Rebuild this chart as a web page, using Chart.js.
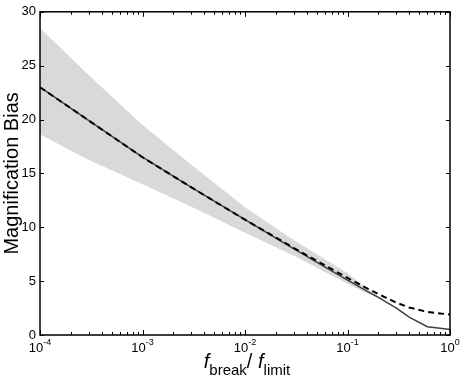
<!DOCTYPE html>
<html>
<head>
<meta charset="utf-8">
<script src="https://cdn.jsdelivr.net/npm/chart.js@4/dist/chart.umd.min.js"></script>
<style>
html,body{margin:0;padding:0;background:#fff;}
#wrap{width:463px;height:380px;}
</style>
</head>
<body>
<div id="wrap"><canvas id="c" width="463" height="380"></canvas></div>
<script>
// ---- data ----
const fRatio      = [1e-4, 3e-4, 1e-3, 3e-3, 1e-2, 3e-2, 0.1, 0.15, 0.2, 0.3, 0.4, 0.6, 0.8, 1.0];
const biasDashed  = [23.0, 19.9, 16.5, 13.7, 10.7, 8.07, 5.3, 4.4, 3.8, 3.0, 2.55, 2.15, 2.0, 1.9];
const biasSolid   = [23.0, 19.9, 16.5, 13.7, 10.7, 8.0, 5.1, 4.15, 3.5, 2.5, 1.65, 0.77, 0.63, 0.52];
const bandUpper   = [28.5, 24.1, 19.5, 15.8, 11.85, 8.8, 5.75, 4.4, 3.6, 2.5, 1.65, 0.77, 0.63, 0.52];
const bandLower   = [18.6, 16.25, 14.0, 11.9, 9.5, 7.35, 4.75, 3.95, 3.4, 2.5, 1.65, 0.77, 0.63, 0.52];
const yTicks      = [0, 5, 10, 15, 20, 25, 30];
const xDecades    = [-4, -3, -2, -1, 0];
const yTitle      = 'Magnification Bias';
const xTitleParts = ['f', 'break', '/', 'f', 'limit'];

const FONT = '"Liberation Sans", Arial, Helvetica, sans-serif';
Chart.defaults.font.family = FONT;
Chart.defaults.color = '#000';

const pts = ys => fRatio.map((x, i) => ({x: x, y: ys[i]}));

const decor = {
  id: 'decor',
  afterDraw(chart) {
    const ctx = chart.ctx;
    const a = chart.chartArea;
    const xs = chart.scales.x, ys = chart.scales.y;
    ctx.save();
    ctx.strokeStyle = '#000';
    // inward y ticks, both sides
    ctx.lineWidth = 1;
    yTicks.forEach(v => {
      const py = Math.round(ys.getPixelForValue(v)) + 0.5;
      ctx.beginPath();
      ctx.moveTo(a.left, py); ctx.lineTo(a.left + 4, py);
      ctx.moveTo(a.right, py); ctx.lineTo(a.right - 4, py);
      ctx.stroke();
    });
    // inward x ticks (major + minor), both sides
    xDecades.forEach(e => {
      for (let m = 1; m <= 9; m++) {
        const v = m * Math.pow(10, e);
        if (v > 1.0000001) break;
        const px = Math.round(xs.getPixelForValue(v)) + 0.5;
        const len = m === 1 ? 5 : 3;
        ctx.beginPath();
        ctx.moveTo(px, a.bottom); ctx.lineTo(px, a.bottom - len);
        ctx.moveTo(px, a.top); ctx.lineTo(px, a.top + len);
        ctx.stroke();
      }
    });
    // box
    ctx.lineWidth = 1.5;
    ctx.strokeRect(a.left, a.top, a.right - a.left, a.bottom - a.top);

    // x tick labels 10^n
    ctx.fillStyle = '#000';
    ctx.textBaseline = 'alphabetic';
    ctx.textAlign = 'left';
    xDecades.forEach(e => {
      const px = xs.getPixelForValue(Math.pow(10, e));
      const base = '10', sup = e === 0 ? '0' : '-' + Math.abs(e);
      ctx.font = '13px ' + FONT;
      const wb = ctx.measureText(base).width;
      ctx.font = '9px ' + FONT;
      const ws = ctx.measureText(sup).width;
      const x0 = px - (wb + ws) / 2;
      ctx.font = '13px ' + FONT;
      ctx.fillText(base, x0, a.bottom + 17);
      ctx.font = '9px ' + FONT;
      ctx.fillText(sup, x0 + wb, a.bottom + 10);
    });

    // x axis title: f_break / f_limit
    const big = '20px ' + FONT, bigI = 'italic 20px ' + FONT, sub = '15px ' + FONT;
    const segs = [
      {t: xTitleParts[0], f: bigI, dy: 0},
      {t: xTitleParts[1], f: sub, dy: 7},
      {t: xTitleParts[2] + ' ', f: big, dy: 0},
      {t: xTitleParts[3], f: bigI, dy: 0},
      {t: xTitleParts[4], f: sub, dy: 7}
    ];
    let total = 0;
    segs.forEach(s => { ctx.font = s.f; s.w = ctx.measureText(s.t).width; total += s.w; });
    let cx = (a.left + a.right) / 2 + 2 - total / 2;
    const baseY = a.bottom + 33;
    segs.forEach(s => { ctx.font = s.f; ctx.fillText(s.t, cx, baseY + s.dy); cx += s.w; });
    ctx.restore();
  }
};

new Chart(document.getElementById('c'), {
  type: 'line',
  data: {
    datasets: [
      {label: 'dashed', data: pts(biasDashed), borderColor: '#000', borderWidth: 2,
       borderDash: [6, 4], pointRadius: 0, tension: 0, fill: false, order: 0},
      {label: 'solid', data: pts(biasSolid), borderColor: '#404040', borderWidth: 1.5,
       pointRadius: 0, tension: 0, fill: false, order: 1},
      {label: 'upper', data: pts(bandUpper), borderWidth: 0, borderColor: 'rgba(0,0,0,0)',
       backgroundColor: '#d9d9d9', pointRadius: 0, tension: 0, fill: '+1', order: 2},
      {label: 'lower', data: pts(bandLower), borderWidth: 0, borderColor: 'rgba(0,0,0,0)',
       pointRadius: 0, tension: 0, fill: false, order: 3}
    ]
  },
  options: {
    responsive: false,
    animation: false,
    devicePixelRatio: 1,
    layout: {padding: {top: 11, right: 13, left: 0, bottom: 0}},
    plugins: {legend: {display: false}, tooltip: {enabled: false}},
    scales: {
      x: {
        type: 'logarithmic', min: 1e-4, max: 1,
        grid: {display: false, drawTicks: false},
        border: {display: false},
        ticks: {display: false},
        afterFit(s) { s.height = 45; }
      },
      y: {
        type: 'linear', min: 0, max: 30,
        grid: {display: false, drawTicks: false},
        border: {display: false},
        ticks: {stepSize: 5, padding: 4, color: '#000', font: {size: 13}},
        title: {display: true, text: yTitle, color: '#000', font: {size: 20}, padding: {top: 0, bottom: 0}},
        afterFit(s) { s.width = 40; }
      }
    }
  },
  plugins: [decor]
});
</script>
</body>
</html>
